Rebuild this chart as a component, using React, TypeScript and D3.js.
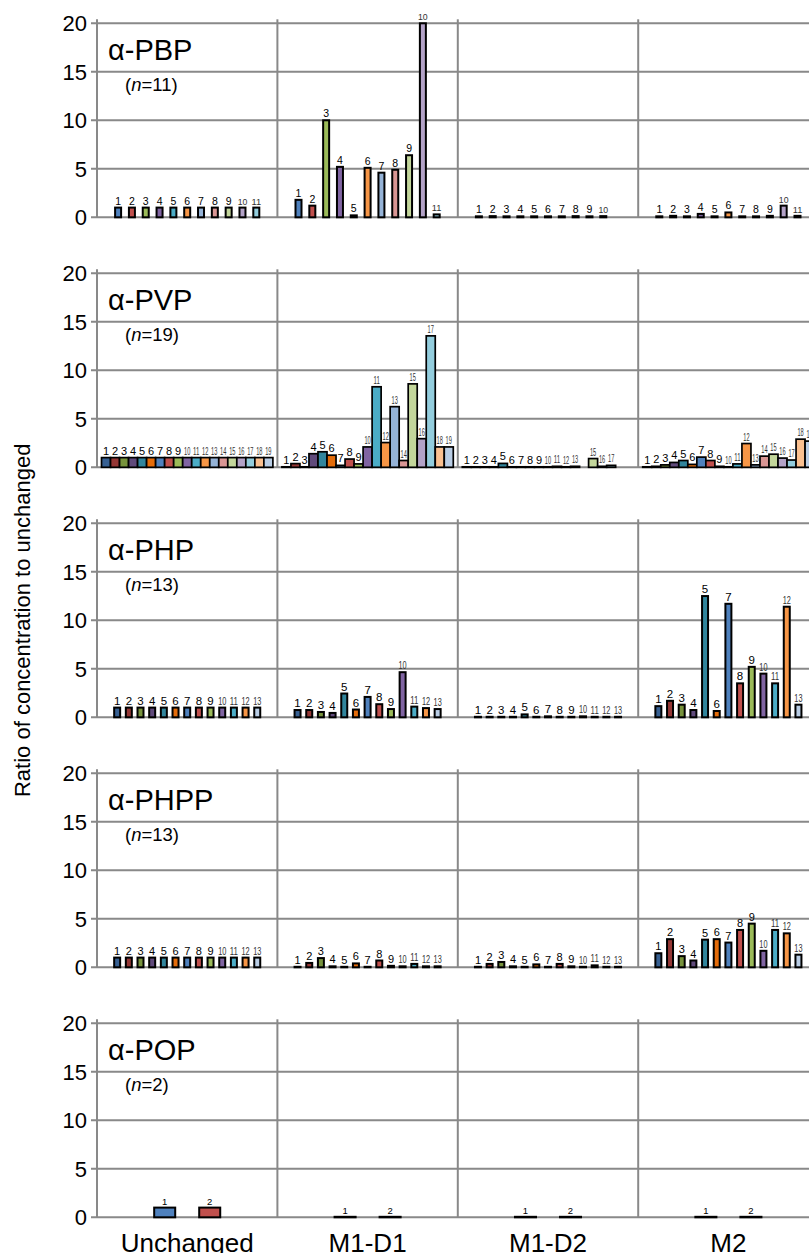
import React from "react";
import * as d3 from "d3";

// ---------- data ----------
const groups = ["Unchanged", "M1-D1", "M1-D2", "M2"];
const yTicks = [0, 5, 10, 15, 20];
const panelNames = ["α-PBP", "α-PVP", "α-PHP", "α-PHPP", "α-POP"];
const panelN = [11, 19, 13, 13, 2];
const yTitle = "Ratio of concentration to unchanged";

const pbpUnchanged = [1, 1, 1, 1, 1, 1, 1, 1, 1, 1, 1];
const pbpM1D1 = [1.8, 1.2, 10.0, 5.2, 0.2, 5.1, 4.6, 4.9, 6.4, 20, 0.3];
const pbpM1D2 = [0.1, 0.12, 0.1, 0.1, 0.1, 0.1, 0.1, 0.12, 0.1, 0.12, null];
const pbpM2 = [0.1, 0.15, 0.1, 0.35, 0.1, 0.5, 0.1, 0.1, 0.15, 1.2, 0.15];

const pvpUnchanged = [1, 1, 1, 1, 1, 1, 1, 1, 1, 1, 1, 1, 1, 1, 1, 1, 1, 1, 1];
const pvpM1D1 = [0.05, 0.38, 0.05, 1.4, 1.6, 1.25, 0.2, 0.85, 0.35, 2.1, 8.3, 2.55, 6.25, 0.7, 8.6, 2.95, 13.55, 2.1, 2.1];
const pvpM1D2 = [0.05, 0.05, 0.05, 0.05, 0.4, 0.05, 0.05, 0.05, 0.05, 0.05, 0.1, 0.05, 0.1, null, 0.9, 0.1, 0.2, null, null];
const pvpM2 = [0.05, 0.1, 0.25, 0.5, 0.7, 0.3, 1.05, 0.7, 0.1, 0.05, 0.35, 2.45, 0.25, 1.15, 1.35, 0.95, 0.75, 2.9, 2.7];

const phpUnchanged = [1, 1, 1, 1, 1, 1, 1, 1, 1, 1, 1, 1, 1];
const phpM1D1 = [0.75, 0.75, 0.55, 0.45, 2.45, 0.8, 2.1, 1.35, 0.85, 4.65, 1.1, 0.95, 0.85];
const phpM1D2 = [0.05, 0.05, 0.05, 0.05, 0.3, 0.05, 0.1, 0.05, 0.05, 0.1, 0.05, 0.05, 0.05];
const phpM2 = [1.15, 1.7, 1.3, 0.75, 12.5, 0.65, 11.7, 3.5, 5.2, 4.5, 3.5, 11.4, 1.3];

const phppUnchanged = [1, 1, 1, 1, 1, 1, 1, 1, 1, 1, 1, 1, 1];
const phppM1D1 = [0.05, 0.45, 0.95, 0.1, 0.05, 0.4, 0.05, 0.7, 0.15, 0.1, 0.35, 0.1, 0.1];
const phppM1D2 = [0.05, 0.35, 0.55, 0.1, 0.05, 0.3, 0.05, 0.35, 0.1, 0.05, 0.2, 0.05, 0.05];
const phppM2 = [1.45, 2.9, 1.15, 0.7, 2.85, 2.9, 2.55, 3.85, 4.5, 1.7, 3.85, 3.5, 1.3];

const popUnchanged = [1, 1];
const popM1D1 = [0.05, 0.05];
const popM1D2 = [0.05, 0.05];
const popM2 = [0.05, 0.05];

const panelValues = [
  [pbpUnchanged, pbpM1D1, pbpM1D2, pbpM2],
  [pvpUnchanged, pvpM1D1, pvpM1D2, pvpM2],
  [phpUnchanged, phpM1D1, phpM1D2, phpM2],
  [phppUnchanged, phppM1D1, phppM1D2, phppM2],
  [popUnchanged, popM1D1, popM1D2, popM2],
];

// ---------- styles ----------
const dark = ["#376092", "#953735", "#77933C", "#604A7B", "#31859C", "#E46C0A"];
const base = ["#4F81BD", "#C0504D", "#9BBB59", "#8064A2", "#4BACC6", "#F79646"];
const light = ["#95B3D7", "#D99694", "#C3D69B", "#B3A2C7", "#93CDDD", "#FAC090"];
const pale = "#B9CDE5";
const panelColors = [
  base.concat(light.slice(0, 5)),
  dark.concat(base, light, [pale]),
  dark.concat(base, [pale]),
  dark.concat(base, [pale]),
  base.slice(0, 2),
];
const panelPad = [
  { pi: 0.566, po: 1.31, font: 10.5 },
  { pi: 0.0, po: 0.5, font: 11 },
  { pi: 0.487, po: 1.47, font: 11.5 },
  { pi: 0.487, po: 1.47, font: 11 },
  { pi: 0.533, po: 1.27, font: 9.5 },
];

const W = 809;
const H = 1253;
const X0 = 97;
const GROUP_W = 180.4;
const TOP0 = 23.3;
const PANEL_STEP = 250;
const PANEL_H = 194;
const GRID = "#898989";
const FONT = "'Liberation Sans', Arial, sans-serif";

export default function App() {
  const xGroup = d3
    .scaleBand<string>()
    .domain(groups)
    .range([X0, X0 + GROUP_W * groups.length])
    .padding(0);

  return (
    <svg
      width={W}
      height={H}
      style={{ position: "absolute", left: 0, top: 0, background: "#fff" }}
      fontFamily={FONT}
    >
      <rect x={0} y={0} width={W} height={H} fill="#fff" />
      {panelNames.map((name, pi) => {
        const top = TOP0 + pi * PANEL_STEP;
        const y = d3.scaleLinear().domain([0, 20]).range([top + PANEL_H, top]);
        const pad = panelPad[pi];
        const n = panelN[pi];
        const idx = d3.range(n);
        return (
          <g key={name}>
            {yTicks.map((t) => (
              <line
                key={"g" + t}
                x1={X0 - 6}
                x2={X0 + GROUP_W * 4}
                y1={y(t)}
                y2={y(t)}
                stroke={GRID}
                strokeWidth={2}
              />
            ))}
            {[X0, ...groups.slice(1).map((g) => xGroup(g) as number)].map((x, i) => (
              <line
                key={"v" + i}
                x1={x}
                x2={x}
                y1={top - 4}
                y2={y(0)}
                stroke={GRID}
                strokeWidth={2}
              />
            ))}
            {yTicks.map((t) => (
              <text
                key={"t" + t}
                x={87}
                y={y(t)}
                dy="0.36em"
                textAnchor="end"
                fontSize={22}
                fill="#000"
              >
                {t}
              </text>
            ))}
            <text x={108} y={top + 36.5} fontSize={29} fill="#000">
              {name}
            </text>
            <text x={125} y={top + 67.5} fontSize={18.5} fill="#000">
              (<tspan fontStyle="italic">n</tspan>={n})
            </text>
            {groups.map((g, gi) => {
              const gx = xGroup(g) as number;
              const xb = d3
                .scaleBand<number>()
                .domain(idx)
                .range([gx, gx + GROUP_W])
                .paddingInner(pad.pi)
                .paddingOuter(pad.po);
              const vals = panelValues[pi][gi];
              const step = xb.step();
              return (
                <g key={g}>
                  {vals.map((v, i) => {
                    if (v === null || v === undefined) return null;
                    const bx = xb(i) as number;
                    const bw = xb.bandwidth();
                    const yt = y(v);
                    const label = String(i + 1);
                    const two = label.length > 1;
                    return (
                      <g key={i}>
                        <rect
                          x={bx}
                          y={yt}
                          width={bw}
                          height={Math.max(0, y(0) - yt)}
                          fill={panelColors[pi][i]}
                          stroke="#000"
                          strokeWidth={pi === 1 ? 1.7 : 2}
                        />
                        <text
                          x={bx + bw / 2}
                          y={yt - 3}
                          textAnchor="middle"
                          fontSize={two ? pad.font * 0.95 : pad.font}
                          fill={two ? "#333" : "#000"}
                          {...(two
                            ? { textLength: step * 0.7, lengthAdjust: "spacingAndGlyphs" }
                            : {})}
                        >
                          {label}
                        </text>
                      </g>
                    );
                  })}
                </g>
              );
            })}
          </g>
        );
      })}
      {groups.map((g) => (
        <text
          key={g}
          x={(xGroup(g) as number) + GROUP_W / 2}
          y={1252}
          textAnchor="middle"
          fontSize={26}
          fill="#000"
        >
          {g}
        </text>
      ))}
      <text
        transform={`translate(30, ${TOP0 + 2 * PANEL_STEP + PANEL_H / 2}) rotate(-90)`}
        textAnchor="middle"
        fontSize={22}
        fill="#000"
      >
        {yTitle}
      </text>
    </svg>
  );
}
